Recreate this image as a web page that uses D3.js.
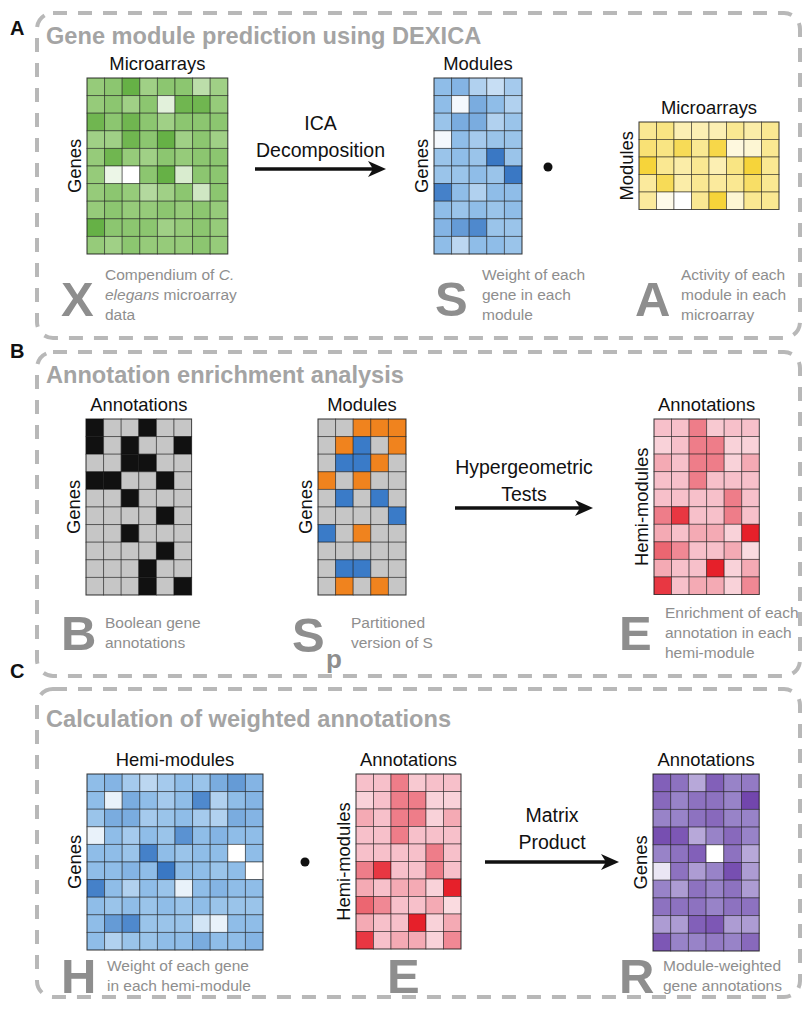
<!DOCTYPE html>
<html><head><meta charset="utf-8">
<script src="https://cdn.jsdelivr.net/npm/d3@7"></script>
<style>body{margin:0;background:#fff} svg{display:block} text{font-family:"Liberation Sans",Arial,Helvetica,sans-serif}</style>
</head><body><svg id="c" width="805" height="1020"></svg>
<script>
// ---------- DATA ----------
const panelLetters = ["A", "B", "C"];
const panelTitles = ["Gene module prediction using DEXICA", "Annotation enrichment analysis", "Calculation of weighted annotations"];

// X : genes x microarrays (green intensity 0..1)
const matX = [
  [0.55,0.6,0.8,0.5,0.6,0.6,0.35,0.5],
  [0.55,0.6,0.5,0.6,0.15,0.75,0.75,0.55],
  [0.75,0.6,0.75,0.6,0.5,0.6,0.6,0.6],
  [0.5,0.5,0.75,0.6,0.8,0.5,0.6,0.5],
  [0.55,0.75,0.55,0.5,0.6,0.55,0.6,0.6],
  [0.55,0.1,0.0,0.6,0.8,0.2,0.6,0.6],
  [0.55,0.6,0.55,0.4,0.5,0.6,0.25,0.6],
  [0.55,0.6,0.55,0.55,0.6,0.55,0.6,0.55],
  [0.8,0.6,0.6,0.6,0.5,0.55,0.6,0.55],
  [0.55,0.5,0.6,0.55,0.55,0.55,0.6,0.55]
];
// S : genes x modules (blue)
const matS = [
  [0.5,0.55,0.35,0.25,0.4],
  [0.5,0.05,0.6,0.5,0.35],
  [0.45,0.6,0.6,0.35,0.45],
  [0.05,0.5,0.4,0.45,0.45],
  [0.45,0.5,0.45,0.9,0.45],
  [0.45,0.45,0.5,0.45,0.9],
  [0.85,0.5,0.35,0.5,0.5],
  [0.5,0.45,0.5,0.45,0.5],
  [0.55,0.7,0.8,0.45,0.45],
  [0.5,0.3,0.5,0.5,0.45]
];
// A : modules x microarrays (yellow)
const matA = [
  [0.5,0.55,0.35,0.35,0.35,0.5,0.4,0.5],
  [0.6,0.55,0.7,0.5,0.75,0.15,0.2,0.5],
  [0.8,0.5,0.4,0.5,0.35,0.55,0.8,0.5],
  [0.45,0.7,0.4,0.5,0.45,0.5,0.65,0.5],
  [0.45,0.1,0.0,0.5,0.8,0.2,0.5,0.5]
];
// B : boolean gene annotations
const matB = [
  [1,0,0,1,0,0],
  [1,0,1,0,0,1],
  [0,0,1,1,0,0],
  [1,1,0,0,1,0],
  [0,0,1,0,0,0],
  [0,0,0,0,1,0],
  [0,0,1,0,0,0],
  [0,0,0,0,1,0],
  [0,0,0,1,0,0],
  [0,0,0,1,0,1]
];
// Sp : partitioned S (1 = positive/orange, -1 = negative/blue, 0 = none)
const matSp = [
  [0,0,1,1,1],
  [0,1,-1,0,1],
  [0,-1,-1,1,0],
  [1,0,1,0,0],
  [0,-1,0,-1,0],
  [0,0,0,0,-1],
  [-1,0,1,0,0],
  [0,0,0,0,0],
  [0,-1,-1,0,0],
  [0,1,0,1,0]
];
// E : hemi-modules x annotations (red enrichment)
const matE = [
  [0.3,0.3,0.6,0.25,0.3,0.3],
  [0.2,0.3,0.6,0.6,0.2,0.2],
  [0.4,0.3,0.6,0.6,0.2,0.4],
  [0.3,0.3,0.6,0.3,0.3,0.3],
  [0.3,0.3,0.3,0.3,0.6,0.3],
  [0.6,0.9,0.3,0.3,0.6,0.3],
  [0.4,0.3,0.4,0.4,0.2,1.0],
  [0.7,0.55,0.3,0.3,0.4,0.15],
  [0.4,0.3,0.3,1.0,0.2,0.4],
  [0.9,0.3,0.4,0.4,0.2,0.55]
];
// H : genes x hemi-modules (blue)
const matH = [
  [0.5,0.55,0.4,0.3,0.4,0.5,0.45,0.6,0.7,0.55],
  [0.5,0.1,0.6,0.5,0.4,0.5,0.8,0.35,0.5,0.55],
  [0.45,0.6,0.6,0.4,0.45,0.5,0.4,0.35,0.6,0.55],
  [0.1,0.5,0.4,0.5,0.45,0.75,0.5,0.55,0.5,0.5],
  [0.5,0.5,0.45,0.85,0.5,0.45,0.5,0.5,0.0,0.5],
  [0.5,0.5,0.55,0.5,0.9,0.5,0.5,0.45,0.5,0.0],
  [0.85,0.5,0.35,0.5,0.45,0.1,0.5,0.55,0.5,0.5],
  [0.5,0.45,0.5,0.45,0.5,0.45,0.5,0.45,0.45,0.45],
  [0.5,0.7,0.8,0.45,0.45,0.45,0.2,0.1,0.5,0.5],
  [0.5,0.35,0.45,0.45,0.5,0.5,0.6,0.5,0.5,0.55]
];
// R : genes x annotations (purple)
const matR = [
  [0.7,0.6,0.35,0.7,0.5,0.55],
  [0.65,0.5,0.6,0.6,0.5,0.85],
  [0.5,0.5,0.6,0.65,0.5,0.5],
  [0.8,0.75,0.35,0.5,0.65,0.5],
  [0.5,0.6,0.7,0.0,0.6,0.35],
  [0.1,0.6,0.4,0.5,0.8,0.4],
  [0.5,0.4,0.6,0.5,0.6,0.4],
  [0.6,0.6,0.6,0.5,0.6,0.6],
  [0.4,0.4,0.7,0.75,0.4,0.4],
  [0.75,0.5,0.5,0.55,0.5,0.65]
];

// ---------- COLOUR SCALES ----------
const greenC  = d3.scaleLinear().domain([0,0.55,0.8]).range(["#ffffff","#96cb7a","#66b146"]).clamp(true);
const blueC   = d3.scaleLinear().domain([0,0.5,0.9]).range(["#ffffff","#8fbde8","#3a78c4"]).clamp(true);
const yellowC = d3.scaleLinear().domain([0,0.5,0.8]).range(["#ffffff","#fae892","#f6d43a"]).clamp(true);
const redC    = d3.scaleLinear().domain([0.15,0.3,0.6,1]).range(["#fadbe0","#f7c0ca","#ee7d89","#e6202a"]).clamp(true);
const purpleC = d3.scaleLinear().domain([0,0.5,0.85]).range(["#ffffff","#9883c8","#7246ad"]).clamp(true);
const boolC   = v => v ? "#111111" : "#c6c6c6";
const spC     = v => v === 1 ? "#f0831e" : (v === -1 ? "#3a7bc8" : "#c6c6c6");

const svg = d3.select("#c");
const GRAY_T = "#a4a4a4", GRAY_C = "#8e8e8e";

// ---------- PANEL BOXES ----------
const boxes = [
  {y0: 13, y1: 338},
  {y0: 352, y1: 676},
  {y0: 689, y1: 997}
];
boxes.forEach((b, i) => {
  svg.append("rect").attr("x", 37).attr("y", b.y0).attr("width", 763).attr("height", b.y1 - b.y0)
    .attr("rx", 16).attr("fill", "none").attr("stroke", "#b8b8b8").attr("stroke-width", 4)
    .attr("stroke-dasharray", "14 11");
});
const letterY = [35, 358, 678];
panelLetters.forEach((l, i) => {
  svg.append("text").attr("x", 10).attr("y", letterY[i]).text(l)
    .attr("font-size", 20).attr("font-weight", "bold").attr("fill", "#111");
});
const titleY = [44, 383, 727];
panelTitles.forEach((t, i) => {
  svg.append("text").attr("x", 46).attr("y", titleY[i]).text(t)
    .attr("font-size", 23.6).attr("font-weight", "bold").attr("fill", GRAY_T);
});

// ---------- MATRICES ----------
function matrix(data, x0, y0, cell, color, colLabel, rowLabel) {
  const rows = data.length, cols = data[0].length;
  const x = d3.scaleBand().domain(d3.range(cols)).range([x0, x0 + cols * cell]);
  const y = d3.scaleBand().domain(d3.range(rows)).range([y0, y0 + rows * cell]);
  const g = svg.append("g");
  const cells = [];
  data.forEach((r, ri) => r.forEach((v, ci) => cells.push({r: ri, c: ci, v})));
  g.selectAll("rect.cell").data(cells).join("rect").attr("class", "cell")
    .attr("x", d => x(d.c)).attr("y", d => y(d.r))
    .attr("width", x.bandwidth()).attr("height", y.bandwidth())
    .attr("fill", d => color(d.v))
    .attr("stroke", "rgba(20,20,20,0.55)").attr("stroke-width", 0.9);
  g.append("rect").attr("x", x0).attr("y", y0).attr("width", cols * cell).attr("height", rows * cell)
    .attr("fill", "none").attr("stroke", "rgba(20,20,20,0.5)").attr("stroke-width", 1);
  g.append("text").attr("x", x0 + cols * cell / 2).attr("y", y0 - 8).attr("text-anchor", "middle")
    .attr("font-size", 18.4).attr("fill", "#111").text(colLabel);
  const cy = y0 + rows * cell / 2;
  g.append("text").attr("transform", `translate(${x0 - 6},${cy}) rotate(-90)`).attr("text-anchor", "middle")
    .attr("font-size", 18.4).attr("fill", "#111").text(rowLabel);
}
const CELL = 17.6;
matrix(matX, 87, 78, CELL, greenC, "Microarrays", "Genes");
matrix(matS, 434, 78, CELL, blueC, "Modules", "Genes");
matrix(matA, 639, 122, 17.5, yellowC, "Microarrays", "Modules");
matrix(matB, 86, 419, CELL, boolC, "Annotations", "Genes");
matrix(matSp, 318, 419, CELL, spC, "Modules", "Genes");
matrix(matE, 654, 419, 17.55, redC, "Annotations", "Hemi-modules");
matrix(matH, 87, 774, CELL, blueC, "Hemi-modules", "Genes");
matrix(matE, 356, 774, 17.5, redC, "Annotations", "Hemi-modules");
matrix(matR, 653, 774, 17.7, purpleC, "Annotations", "Genes");

// ---------- ARROWS & OPERATORS ----------
function arrow(x1, x2, y, lines, ly) {
  svg.append("line").attr("x1", x1).attr("x2", x2 - 10).attr("y1", y).attr("y2", y)
    .attr("stroke", "#111").attr("stroke-width", 3.6);
  svg.append("path").attr("d", `M${x2},${y} L${x2 - 18},${y - 8} L${x2 - 13},${y} L${x2 - 18},${y + 8} Z`).attr("fill", "#111");
  const cx = (x1 + x2) / 2;
  lines.forEach((t, i) => svg.append("text").attr("x", cx).attr("y", ly + i * 27).attr("text-anchor", "middle")
    .attr("font-size", 19.5).attr("fill", "#111").text(t));
}
arrow(255, 386, 169, ["ICA", "Decomposition"], 130);
arrow(455, 593, 508, ["Hypergeometric", "Tests"], 474);
arrow(485, 619, 862, ["Matrix", "Product"], 822);
svg.append("circle").attr("cx", 548).attr("cy", 167).attr("r", 4.5).attr("fill", "#111");
svg.append("circle").attr("cx", 305).attr("cy", 862).attr("r", 4.5).attr("fill", "#111");

// ---------- CAPTIONS ----------
function caption(letter, lx, ly, lines, tx, ty, sub) {
  svg.append("text").attr("x", lx).attr("y", ly).text(letter)
    .attr("font-size", 49).attr("font-weight", "bold").attr("fill", GRAY_C);
  if (sub) svg.append("text").attr("x", lx + 34).attr("y", ly + 16).text(sub)
    .attr("font-size", 26).attr("font-weight", "bold").attr("fill", GRAY_C);
  lines.forEach((t, i) => {
    const el = svg.append("text").attr("x", tx).attr("y", ty + i * 19.8).attr("font-size", 15.5).attr("fill", GRAY_C);
    if (Array.isArray(t)) t.forEach(p => el.append("tspan").attr("font-style", p.i ? "italic" : null).text(p.s));
    else el.text(t);
  });
}
caption("X", 61, 316, [[{s:"Compendium of "},{s:"C.", i:true}], [{s:"elegans", i:true},{s:" microarray"}], "data"], 105, 280);
caption("S", 435, 316, ["Weight of each", "gene in each", "module"], 482, 280);
caption("A", 635, 316, ["Activity of each", "module in each", "microarray"], 681, 280);
caption("B", 61, 650, ["Boolean gene", "annotations"], 105, 628);
caption("S", 292, 652, ["Partitioned", "version of S"], 351, 628, "p");
caption("E", 619, 650, ["Enrichment of each", "annotation in each", "hemi-module"], 665, 618);
caption("H", 61, 993, ["Weight of each gene", "in each hemi-module"], 107, 971);
caption("E", 387, 993, [], 0, 0);
caption("R", 619, 993, ["Module-weighted", "gene annotations"], 663, 971);
</script></body></html>
